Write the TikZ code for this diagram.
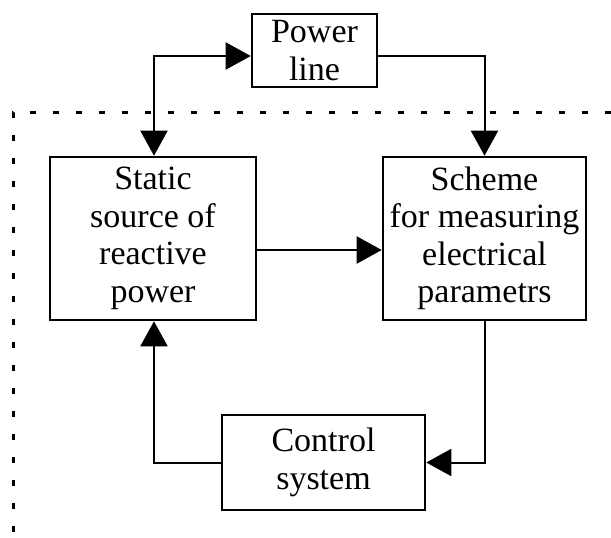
\documentclass[tikz,border=0pt]{standalone}
\usepackage{fontspec}
\setmainfont{Liberation Serif}
\usetikzlibrary{arrows.meta}
\begin{document}
\begin{tikzpicture}[x=1pt,y=-1pt,
  block/.style={draw,line width=2.6pt,minimum width=#1,inner sep=0pt,align=center,
    font=\fontsize{34}{37.5}\selectfont},
  tip/.tip={Triangle[length=25pt,width=27pt]},
  link/.style={line width=2pt,-tip},
  frame/.style={line width=3pt,dash pattern=on 6pt off 17pt}]
\useasboundingbox (0,0) rectangle (611,538);
% blocks
\node[block=125pt,minimum height=73pt] (pl) at (314.5,50.5) {Power\\line};
\node[block=206pt,minimum height=163pt] (ss) at (153,238.5) {Static\\source of\\reactive\\power};
\node[block=203pt,minimum height=163pt] (sm) at (484.5,238.5) {Scheme\\for measuring\\electrical\\parametrs};
\node[block=203pt,minimum height=95pt] (cs) at (323.5,462.5) {Control\\system};
% dotted enclosure
\draw[frame] (611,112) -- (13,112) -- (13,538);
% connectors
\coordinate (c1) at (154,56);
\draw[link,tip-tip] (ss.north -| c1) -- (c1) -- (c1 -| pl.west);
\draw[link] (pl.east |- c1) -| (sm.north);
\draw[link] (ss.east |- 0,250) -- (sm.west |- 0,250);
\draw[link] (sm.south) |- (cs.east);
\draw[link] (cs.west) -| (ss.south -| c1);
\end{tikzpicture}
\end{document}
